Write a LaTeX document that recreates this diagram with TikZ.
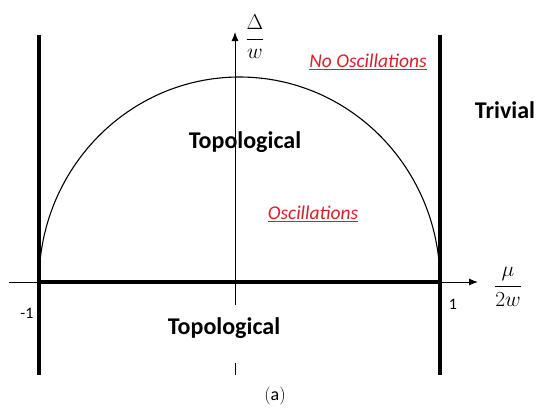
\RequirePackage{fix-cm}
\documentclass[tikz,border=0pt]{standalone}
\usepackage{fontspec}
\setmainfont{Carlito}
\usetikzlibrary{arrows.meta}
\definecolor{oscred}{RGB}{220,30,40}
\begin{document}
\begin{tikzpicture}[x=1pt,y=-1pt,
  thick line/.style={line width=3.2pt},
  thin line/.style={line width=1pt},
  axisarrow/.style={-{Latex[length=9pt,width=7pt]}},
  region/.style={font=\fontsize{24}{27}\selectfont\bfseries, inner sep=0pt},
  osc/.style={font=\fontsize{19.5}{22}\selectfont\itshape, text=oscred, inner sep=0pt},
  tick/.style={font=\fontsize{16}{18}\selectfont, inner sep=0pt},
  mathlabel/.style={font=\fontsize{21.5}{24}\selectfont, inner sep=0pt}]
\useasboundingbox (0,0) rectangle (539,408);
% coordinates
\coordinate (hstart) at (9,282);
\coordinate (hend) at (478,282);
\coordinate (vtop) at (235,32);
\coordinate (vmid) at (235,305);
\coordinate (vlow) at (235,363);
\coordinate (vbot) at (235,375);
\coordinate (Ltop) at (39,35);
\coordinate (Lbot) at (39,375);
\coordinate (Rtop) at (440,35);
\coordinate (Rbot) at (440,375);
\coordinate (Lax) at (39,282);
\coordinate (Rax) at (440,282);
% thin axes
\draw[thin line, axisarrow] (hstart) -- (hend);
\draw[thin line, axisarrow] (vmid) -- (vtop);
\draw[thin line] (vlow) -- (vbot);
% semicircle
\draw[line width=1.1pt] (Lax) arc[start angle=180, end angle=0, x radius=200.5, y radius=-205];
% thick lines
\draw[thick line] (Ltop) -- (Lbot);
\draw[thick line] (Rtop) -- (Rbot);
\draw[thick line] (Lax) -- (Rax);
% labels
\node[mathlabel] (dlab) at (255,37) {$\displaystyle\frac{\Delta}{w}$};
\node[mathlabel] (mlab) at (508,287) {$\displaystyle\frac{\mu}{2w}$};
\node[osc] (noosc) at (368,62) {\underline{No Oscillations}};
\node[region] (topup) at (245,142) {Topological};
\node[region] (triv) at (505,110) {Trivial};
\node[osc] (osc) at (313,214) {\underline{Oscillations}};
\node[region] (topdown) at (224,328) {Topological};
\node[tick] (m1) at (27,313) {-1};
\node[tick] (p1) at (453,304) {1};
\node[font=\fontsize{18}{20}\selectfont, inner sep=0pt] (cap) at (275,396) {$(\mathrm{a})$};
\end{tikzpicture}
\end{document}
